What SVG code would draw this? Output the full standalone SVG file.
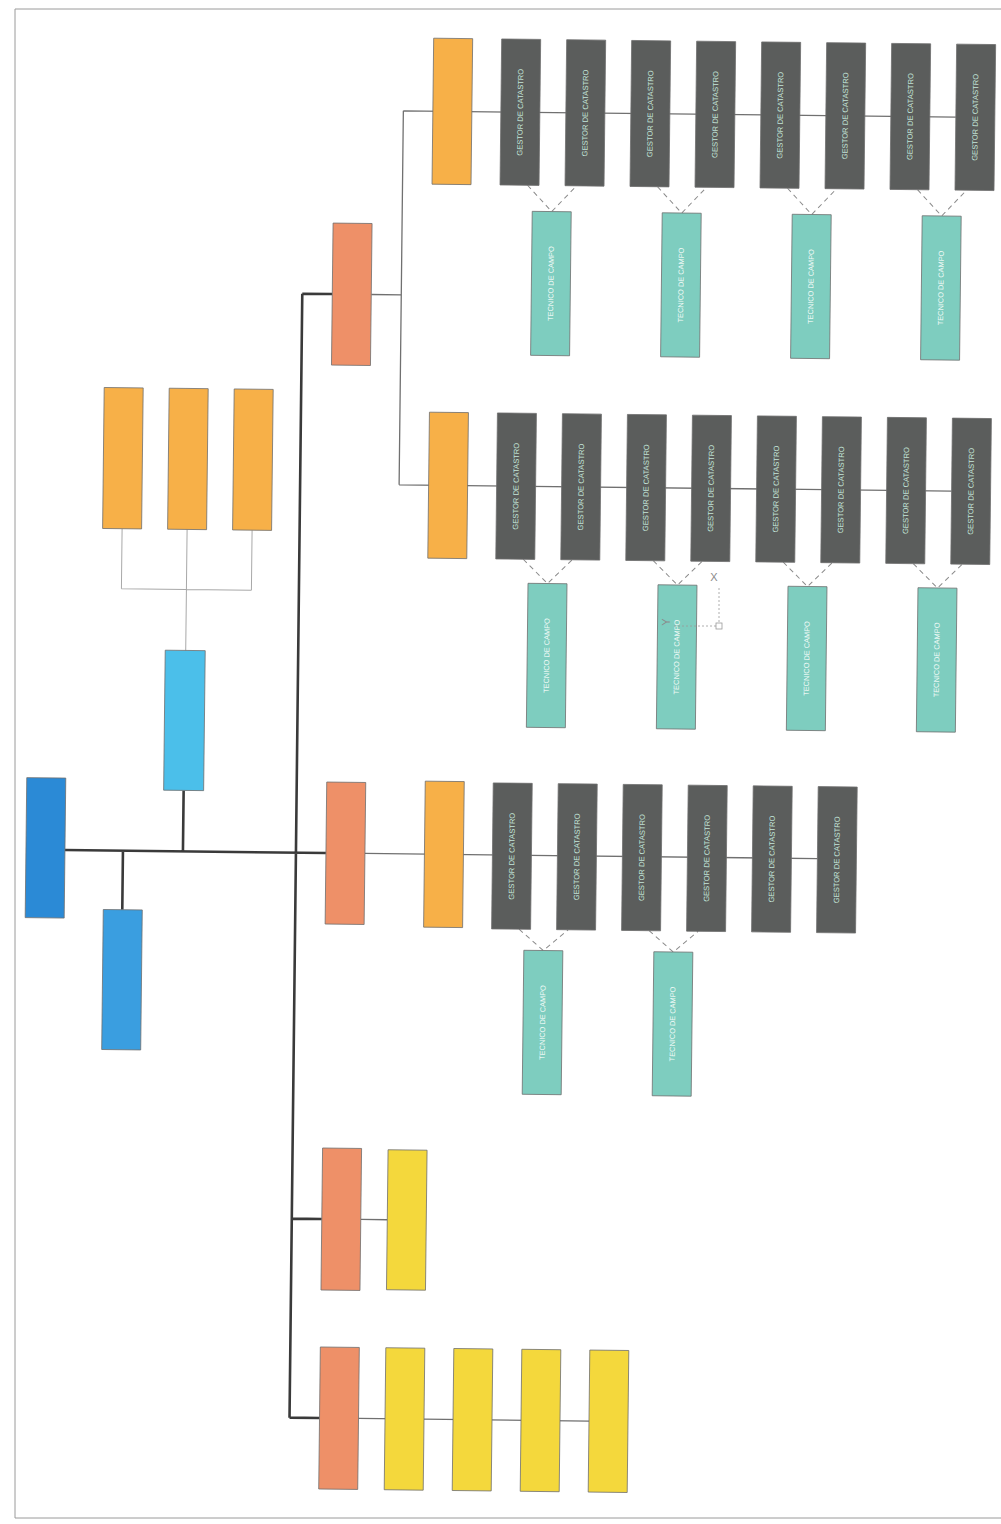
<svg xmlns="http://www.w3.org/2000/svg" width="1001" height="1524" viewBox="0 0 1001 1524">
<style>
.box{stroke:#6e6e6e;stroke-width:0.8}
.root{fill:#2b8ad6}
.blue{fill:#3a9ee0}
.cyan{fill:#4bbfea}
.org{fill:#f7b048}
.red{fill:#ee9068}
.yel{fill:#f4d83c}
.ges{fill:#5b5d5c}
.tec{fill:#7ecdbf}
.thick{stroke:#3a3a3a;stroke-width:2.6;fill:none}
.mid{stroke:#707070;stroke-width:1.3;fill:none}
.light{stroke:#a8a8a8;stroke-width:1;fill:none}
.dash{stroke:#8a8a8a;stroke-width:1;stroke-dasharray:5 4;fill:none}
.tg{font-family:"Liberation Sans",Arial,sans-serif;font-size:7.6px;fill:#c4e6da;text-anchor:middle;dominant-baseline:central}
.tt{font-family:"Liberation Sans",Arial,sans-serif;font-size:7.4px;fill:#f2fbf8;text-anchor:middle;dominant-baseline:central}
.ucs{stroke:#9a9a9a;stroke-width:0.8;fill:none;stroke-dasharray:2 2}
.ucst{font-family:"Liberation Sans",Arial,sans-serif;font-size:11px;fill:#8a8a8a;text-anchor:middle;dominant-baseline:central}
</style>
<rect x="0" y="0" width="1001" height="1524" fill="#ffffff"/>
<path d="M15 9 H1001 M15 9 V1518 H1001" stroke="#9a9a9a" stroke-width="1" fill="none"/>
<g transform="rotate(0.65 500 760)">
<g id="connectors">
<path class="thick" d="M66 855 H327 M124 855 V914 M184 855 V794 M297 296 V1420 M297 296 H327 M297 1221 H327 M297 1420 H327"/>
<path class="mid" d="M366 296 H396 M396 112 V486 M396 112 H948.5 M396 486 H948.5 M366 855 H818.5 M366 1221 H392.5 M366 1420 H596.5"/>
<path class="light" d="M119.5 533 V593 M184.5 533 V593 M249.5 533 V593 M119.5 593 H249.5 M184.5 593 V654"/>
<path class="dash" d="M521 185 L545.5 211 L570 185 M651 185 L675.5 211 L700 185 M781 185 L805.5 211 L830 185 M911 185 L935.5 211 L960 185"/>
<path class="dash" d="M521 559 L545.5 583 L570 559 M651 559 L675.5 583 L700 559 M781 559 L805.5 583 L830 559 M911 559 L935.5 583 L960 559"/>
<path class="dash" d="M521 929 L545.5 950 L570 929 M651 929 L675.5 950 L700 929"/>
</g>
<g id="n-root"><rect class="box root" x="27" y="783" width="39" height="140"/></g>
<g id="n-blue2"><rect class="box blue" x="105" y="914" width="39" height="140"/></g>
<g id="n-cyan"><rect class="box cyan" x="164" y="654" width="40" height="140"/></g>
<g id="n-o1"><rect class="box org" x="100" y="392" width="39" height="141"/></g>
<g id="n-o2"><rect class="box org" x="165" y="392" width="39" height="141"/></g>
<g id="n-o3"><rect class="box org" x="230" y="392" width="39" height="141"/></g>
<g id="n-A"><rect class="box red" x="327" y="225" width="39" height="142"/></g>
<g id="n-B"><rect class="box red" x="327" y="784" width="39" height="142"/></g>
<g id="n-C"><rect class="box red" x="327" y="1150" width="39" height="142"/></g>
<g id="n-D"><rect class="box red" x="327" y="1349" width="39" height="142"/></g>
<g id="n-E"><rect class="box org" x="425.5" y="39" width="39" height="146"/></g>
<g id="n-F"><rect class="box org" x="425.5" y="413" width="39" height="146"/></g>
<g id="n-G"><rect class="box org" x="425.5" y="782" width="39" height="146"/></g>
<g id="n-H"><rect class="box yel" x="392.5" y="1151" width="39" height="140"/></g>
<g id="n-Y1"><rect class="box yel" x="392.5" y="1349" width="39" height="142"/></g>
<g id="n-Y2"><rect class="box yel" x="460.5" y="1349" width="39" height="142"/></g>
<g id="n-Y3"><rect class="box yel" x="528.5" y="1349" width="39" height="142"/></g>
<g id="n-Y4"><rect class="box yel" x="596.5" y="1349" width="39" height="142"/></g>

<g id="n-g1-1"><rect class="box ges" x="493.5" y="39" width="39" height="146"/><text class="tg" x="513" y="112" transform="rotate(-90 513 112)">GESTOR DE CATASTRO</text></g>
<g id="n-g1-2"><rect class="box ges" x="558.5" y="39" width="39" height="146"/><text class="tg" x="578" y="112" transform="rotate(-90 578 112)">GESTOR DE CATASTRO</text></g>
<g id="n-g1-3"><rect class="box ges" x="623.5" y="39" width="39" height="146"/><text class="tg" x="643" y="112" transform="rotate(-90 643 112)">GESTOR DE CATASTRO</text></g>
<g id="n-g1-4"><rect class="box ges" x="688.5" y="39" width="39" height="146"/><text class="tg" x="708" y="112" transform="rotate(-90 708 112)">GESTOR DE CATASTRO</text></g>
<g id="n-g1-5"><rect class="box ges" x="753.5" y="39" width="39" height="146"/><text class="tg" x="773" y="112" transform="rotate(-90 773 112)">GESTOR DE CATASTRO</text></g>
<g id="n-g1-6"><rect class="box ges" x="818.5" y="39" width="39" height="146"/><text class="tg" x="838" y="112" transform="rotate(-90 838 112)">GESTOR DE CATASTRO</text></g>
<g id="n-g1-7"><rect class="box ges" x="883.5" y="39" width="39" height="146"/><text class="tg" x="903" y="112" transform="rotate(-90 903 112)">GESTOR DE CATASTRO</text></g>
<g id="n-g1-8"><rect class="box ges" x="948.5" y="39" width="39" height="146"/><text class="tg" x="968" y="112" transform="rotate(-90 968 112)">GESTOR DE CATASTRO</text></g>

<g id="n-g2-1"><rect class="box ges" x="493.5" y="413" width="39" height="146"/><text class="tg" x="513" y="486" transform="rotate(-90 513 486)">GESTOR DE CATASTRO</text></g>
<g id="n-g2-2"><rect class="box ges" x="558.5" y="413" width="39" height="146"/><text class="tg" x="578" y="486" transform="rotate(-90 578 486)">GESTOR DE CATASTRO</text></g>
<g id="n-g2-3"><rect class="box ges" x="623.5" y="413" width="39" height="146"/><text class="tg" x="643" y="486" transform="rotate(-90 643 486)">GESTOR DE CATASTRO</text></g>
<g id="n-g2-4"><rect class="box ges" x="688.5" y="413" width="39" height="146"/><text class="tg" x="708" y="486" transform="rotate(-90 708 486)">GESTOR DE CATASTRO</text></g>
<g id="n-g2-5"><rect class="box ges" x="753.5" y="413" width="39" height="146"/><text class="tg" x="773" y="486" transform="rotate(-90 773 486)">GESTOR DE CATASTRO</text></g>
<g id="n-g2-6"><rect class="box ges" x="818.5" y="413" width="39" height="146"/><text class="tg" x="838" y="486" transform="rotate(-90 838 486)">GESTOR DE CATASTRO</text></g>
<g id="n-g2-7"><rect class="box ges" x="883.5" y="413" width="39" height="146"/><text class="tg" x="903" y="486" transform="rotate(-90 903 486)">GESTOR DE CATASTRO</text></g>
<g id="n-g2-8"><rect class="box ges" x="948.5" y="413" width="39" height="146"/><text class="tg" x="968" y="486" transform="rotate(-90 968 486)">GESTOR DE CATASTRO</text></g>

<g id="n-g3-1"><rect class="box ges" x="493.5" y="783" width="39" height="146"/><text class="tg" x="513" y="856" transform="rotate(-90 513 856)">GESTOR DE CATASTRO</text></g>
<g id="n-g3-2"><rect class="box ges" x="558.5" y="783" width="39" height="146"/><text class="tg" x="578" y="856" transform="rotate(-90 578 856)">GESTOR DE CATASTRO</text></g>
<g id="n-g3-3"><rect class="box ges" x="623.5" y="783" width="39" height="146"/><text class="tg" x="643" y="856" transform="rotate(-90 643 856)">GESTOR DE CATASTRO</text></g>
<g id="n-g3-4"><rect class="box ges" x="688.5" y="783" width="39" height="146"/><text class="tg" x="708" y="856" transform="rotate(-90 708 856)">GESTOR DE CATASTRO</text></g>
<g id="n-g3-5"><rect class="box ges" x="753.5" y="783" width="39" height="146"/><text class="tg" x="773" y="856" transform="rotate(-90 773 856)">GESTOR DE CATASTRO</text></g>
<g id="n-g3-6"><rect class="box ges" x="818.5" y="783" width="39" height="146"/><text class="tg" x="838" y="856" transform="rotate(-90 838 856)">GESTOR DE CATASTRO</text></g>

<g id="n-t1-1"><rect class="box tec" x="526" y="211" width="39" height="144"/><text class="tt" x="545.5" y="283" transform="rotate(-90 545.5 283)">TECNICO DE CAMPO</text></g>
<g id="n-t1-2"><rect class="box tec" x="656" y="211" width="39" height="144"/><text class="tt" x="675.5" y="283" transform="rotate(-90 675.5 283)">TECNICO DE CAMPO</text></g>
<g id="n-t1-3"><rect class="box tec" x="786" y="211" width="39" height="144"/><text class="tt" x="805.5" y="283" transform="rotate(-90 805.5 283)">TECNICO DE CAMPO</text></g>
<g id="n-t1-4"><rect class="box tec" x="916" y="211" width="39" height="144"/><text class="tt" x="935.5" y="283" transform="rotate(-90 935.5 283)">TECNICO DE CAMPO</text></g>

<g id="n-t2-1"><rect class="box tec" x="526" y="583" width="39" height="144"/><text class="tt" x="545.5" y="655" transform="rotate(-90 545.5 655)">TECNICO DE CAMPO</text></g>
<g id="n-t2-2"><rect class="box tec" x="656" y="583" width="39" height="144"/><text class="tt" x="675.5" y="655" transform="rotate(-90 675.5 655)">TECNICO DE CAMPO</text></g>
<g id="n-t2-3"><rect class="box tec" x="786" y="583" width="39" height="144"/><text class="tt" x="805.5" y="655" transform="rotate(-90 805.5 655)">TECNICO DE CAMPO</text></g>
<g id="n-t2-4"><rect class="box tec" x="916" y="583" width="39" height="144"/><text class="tt" x="935.5" y="655" transform="rotate(-90 935.5 655)">TECNICO DE CAMPO</text></g>

<g id="n-t3-1"><rect class="box tec" x="526" y="950" width="39" height="144"/><text class="tt" x="545.5" y="1022" transform="rotate(-90 545.5 1022)">TECNICO DE CAMPO</text></g>
<g id="n-t3-2"><rect class="box tec" x="656" y="950" width="39" height="144"/><text class="tt" x="675.5" y="1022" transform="rotate(-90 675.5 1022)">TECNICO DE CAMPO</text></g>
</g>
<g id="ucs-icon">
<text class="ucst" x="714" y="577">X</text>
<path class="ucs" d="M719 588 V623 M716 626 H672"/>
<rect x="716" y="623" width="6" height="6" fill="none" stroke="#9a9a9a" stroke-width="0.8"/>
<text class="ucst" x="666" y="622" transform="rotate(-90 666 622)">Y</text>
</g>
</svg>
